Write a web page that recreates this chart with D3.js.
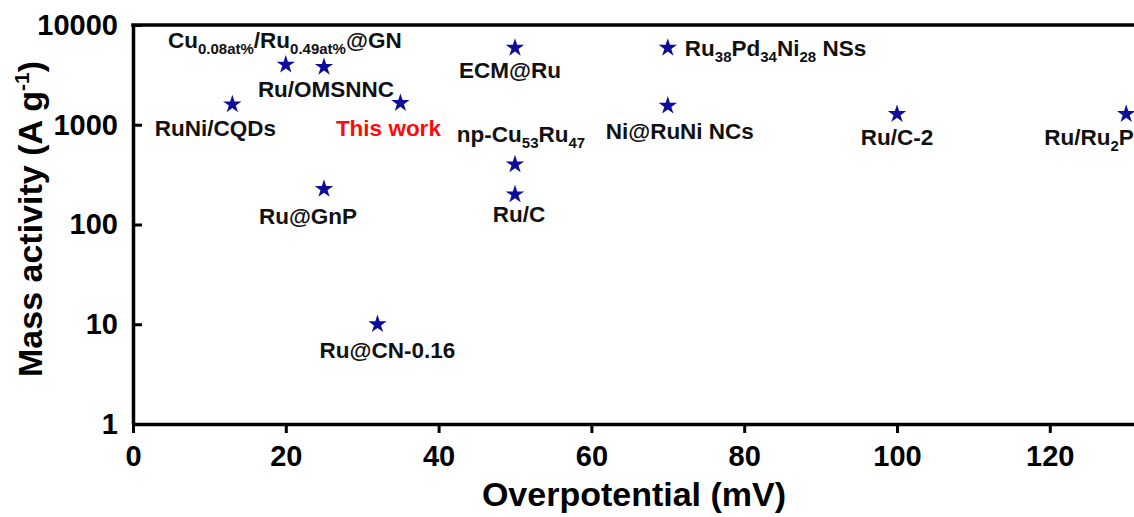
<!DOCTYPE html>
<html><head><meta charset="utf-8">
<script src="https://cdn.jsdelivr.net/npm/d3@7"></script>
<style>
body{margin:0;background:#fff;overflow:hidden}
svg{display:block}
text{font-family:"Liberation Sans",Arial,Helvetica,sans-serif;font-weight:bold;white-space:pre}
</style>
</head><body>
<svg id="c" width="1134" height="517"></svg>
<script>
// ---- data ----
const catalysts = ["RuNi/CQDs","Cu0.08at%/Ru0.49at%@GN","Ru/OMSNNC","This work","ECM@Ru","Ru38Pd34Ni28 NSs","Ni@RuNi NCs","np-Cu53Ru47","Ru/C","Ru@GnP","Ru@CN-0.16","Ru/C-2","Ru/Ru2P"];
const labelParts = [
  [["RuNi/CQDs"]],
  [["Cu"],["0.08at%","sub"],["/Ru"],["0.49at%","sub"],["@GN"]],
  [["Ru/OMSNNC"]],
  [["This work"]],
  [["ECM@Ru"]],
  [["Ru"],["38","sub"],["Pd"],["34","sub"],["Ni"],["28","sub"],[" NSs"]],
  [["Ni@RuNi NCs"]],
  [["np-Cu"],["53","sub"],["Ru"],["47","sub"]],
  [["Ru/C"]],
  [["Ru@GnP"]],
  [["Ru@CN-0.16"]],
  [["Ru/C-2"]],
  [["Ru/Ru"],["2","sub"],["P"]]
];
const overpotential = [13,20,25,35,50,70,70,50,50,25,32,100,130];
const massActivity  = [1600,4000,3800,1650,5900,5900,1550,400,200,227,10,1280,1280];
const xTicks = [0,20,40,60,80,100,120];
const xMinorTicks = [10,30,50,70,90,110,130];
const yTicks = [1,10,100,1000,10000];
const highlight = "This work";

// ---- layout (label offsets relative to each star, px) ----
const labelDx = [-17,-1,2,-12,-5,17,12,6,4,-16,10,0,-82];
const labelDy = [24,-25,22,25,22,0,25,-30,20,27,26,23,23];
const labelAnchor = ["middle","middle","middle","middle","middle","start","middle","middle","middle","middle","middle","middle","start"];

const svg = d3.select("#c");
const x = d3.scaleLinear().domain([0,132]).range([133,133+132*7.64]);
const y = d3.scaleLog().domain([1,10000]).range([424,25]);

const yMinor = [];
for (let k=0;k<4;k++) for (let m=2;m<=9;m++) yMinor.push(m*Math.pow(10,k));

// x axis
const gx = svg.append("g").attr("transform",`translate(0,${y.range()[0]})`);
gx.call(d3.axisBottom(x).tickValues(xMinorTicks).tickSize(5).tickSizeOuter(0).tickFormat(""));
gx.call(d3.axisBottom(x).tickValues(xTicks).tickSize(9).tickSizeOuter(0).tickPadding(12).tickFormat(d3.format("d")));
// y axis
const gy = svg.append("g").attr("transform",`translate(${x.range()[0]},0)`);
gy.call(d3.axisLeft(y).tickValues(yMinor).tickSize(-5).tickSizeOuter(0).tickFormat(""));
gy.call(d3.axisLeft(y).tickValues(yTicks).tickSize(-9).tickSizeOuter(0).tickPadding(15).tickFormat(d3.format("d")));

svg.selectAll(".domain").attr("stroke","#000").attr("stroke-width",3.5);
svg.selectAll(".tick line").attr("stroke","#000").attr("stroke-width",3);
svg.selectAll(".tick text").attr("fill","#000").style("font-size","29px")
   .style("font-family",'"Liberation Sans",Arial,sans-serif').style("font-weight","bold");

// top frame line
svg.append("line").attr("x1",x.range()[0]-1.75).attr("x2",x.range()[1])
  .attr("y1",y.range()[1]).attr("y2",y.range()[1]).attr("stroke","#000").attr("stroke-width",3.5);

// stars
const star = d3.symbol(d3.symbolStar,105);
svg.append("g").selectAll("path").data(catalysts).join("path")
  .attr("d",star)
  .attr("transform",(d,i)=>`translate(${x(overpotential[i])},${y(massActivity[i])})`)
  .attr("fill","#0d0d9a");

// labels
catalysts.forEach((name,i)=>{
  const t = svg.append("text")
    .attr("x",x(overpotential[i])+labelDx[i])
    .attr("y",y(massActivity[i])+labelDy[i])
    .attr("dy","0.35em")
    .attr("text-anchor",labelAnchor[i])
    .style("font-size","22.5px")
    .attr("fill", name===highlight ? "#ff0a0a" : "#111");
  let inSub=false;
  labelParts[i].forEach(p=>{
    const ts = t.append("tspan").text(p[0]);
    if (p[1]==="sub"){ ts.style("font-size","15px"); if(!inSub){ts.attr("dy",6); inSub=true;} }
    else if (inSub){ ts.attr("dy",-6); inSub=false; }
  });
});

// axis titles
svg.append("text").attr("x",634).attr("y",506).attr("text-anchor","middle")
  .style("font-size","34px").attr("fill","#000").text("Overpotential (mV)");
const yt = svg.append("text").attr("transform","translate(42,219) rotate(-90)")
  .attr("text-anchor","middle").style("font-size","34px").attr("fill","#000");
yt.append("tspan").text("Mass activity (A g");
yt.append("tspan").text("-1").style("font-size","21px").attr("dy",-13);
yt.append("tspan").text(")").attr("dy",13);
</script>
</body></html>
